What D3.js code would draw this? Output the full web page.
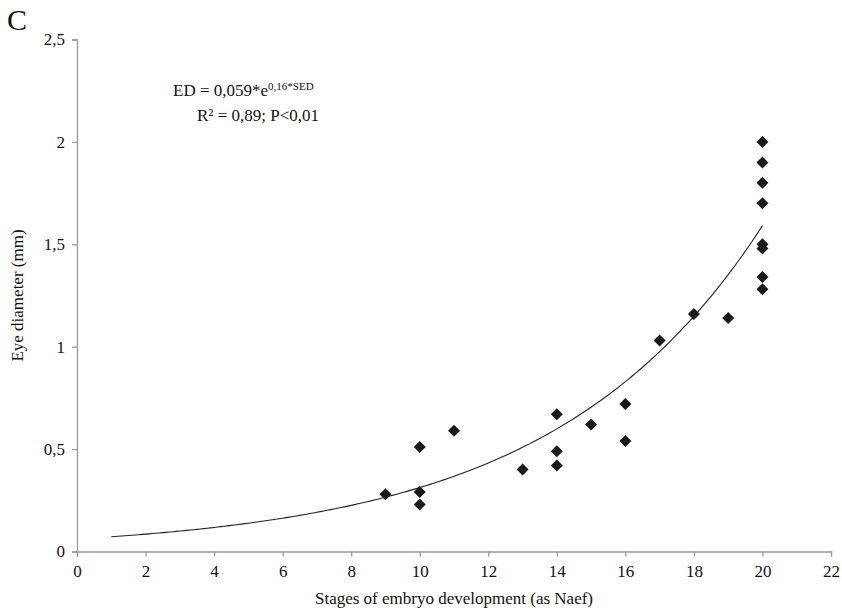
<!DOCTYPE html>
<html lang="en">
<head>
    <meta charset="UTF-8">
    <title>Eye diameter vs embryo stage</title>
    <script src="https://cdn.jsdelivr.net/npm/d3@7"></script>
    <style>
        body { margin: 0; background: #fff; }
        svg text { font-family: "Liberation Serif", "Times New Roman", serif; fill: #111; }
    </style>
</head>
<body>
    <svg id="chart" width="842" height="615"></svg>
    <script>
        // stage (Naef) and eye diameter (mm)
        const stages = [9, 10, 10, 10, 11, 13, 14, 14, 14, 15, 16, 16, 17, 18, 19,
                        20, 20, 20, 20, 20, 20, 20, 20];
        const diameters = [0.28, 0.51, 0.29, 0.23, 0.59, 0.40, 0.67, 0.49, 0.42, 0.62, 0.72, 0.54, 1.03, 1.16, 1.14,
                           2.00, 1.90, 1.80, 1.70, 1.50, 1.48, 1.34, 1.28];
        const xTicks = [0, 2, 4, 6, 8, 10, 12, 14, 16, 18, 20, 22];
        const yTicks = [0, 0.5, 1, 1.5, 2, 2.5];
        // trendline as drawn in the figure (ED = a * e^(b * SED))
        const trendA = 0.0612, trendB = 0.1629;
        const trendRange = [1, 20];

        const svg = d3.select('#chart');
        const x = d3.scaleLinear().domain([0, 22]).range([77, 831]);
        const y = d3.scaleLinear().domain([0, 2.5]).range([551.5, 39.5]);
        const fmt = d => String(d).replace('.', ',');

        // axes
        const xAxis = svg.append('g')
            .attr('transform', `translate(0,${y(0)})`)
            .call(d3.axisBottom(x).tickValues(xTicks).tickSize(5).tickFormat(fmt));
        const yAxis = svg.append('g')
            .attr('transform', `translate(${x(0)},0)`)
            .call(d3.axisLeft(y).tickValues(yTicks).tickSize(5).tickFormat(fmt));
        [xAxis, yAxis].forEach(g => {
            g.attr('font-family', null);
            g.select('.domain').attr('stroke', '#999').attr('stroke-width', 1.3);
            g.selectAll('.tick line').attr('stroke', '#999').attr('stroke-width', 1.3);
            g.selectAll('.tick text')
                .attr('font-size', 17)
                .attr('fill', '#111');
        });
        xAxis.selectAll('.tick text').attr('dy', '1.05em');
        yAxis.selectAll('.tick text').attr('x', -12);

        // trendline
        const curveX = d3.range(trendRange[0], trendRange[1] + 0.001, 0.1);
        svg.append('path')
            .datum(curveX)
            .attr('fill', 'none')
            .attr('stroke', '#222')
            .attr('stroke-width', 1.1)
            .attr('d', d3.line().x(d => x(d)).y(d => y(trendA * Math.exp(trendB * d))));

        // points
        svg.append('g')
            .selectAll('path')
            .data(stages)
            .join('path')
            .attr('d', d3.symbol(d3.symbolSquare, 72))
            .attr('transform', (d, i) => `translate(${x(d)},${y(diameters[i])}) rotate(45)`)
            .attr('fill', '#1a1a1a');

        // labels
        svg.append('text').attr('x', 7).attr('y', 30).attr('font-size', 30).text('C');

        svg.append('text')
            .attr('x', x(11)).attr('y', 604)
            .attr('text-anchor', 'middle').attr('font-size', 17)
            .text('Stages of embryo development (as Naef)');

        svg.append('text')
            .attr('transform', `translate(23,${y(1.25)}) rotate(-90)`)
            .attr('text-anchor', 'middle').attr('font-size', 17)
            .text('Eye diameter (mm)');

        const eq = svg.append('text').attr('x', 173).attr('y', 96).attr('font-size', 17);
        eq.append('tspan').text('ED = 0,059*e');
        eq.append('tspan').attr('dy', -6).attr('font-size', 11).text('0,16*SED');
        svg.append('text').attr('x', 197).attr('y', 121).attr('font-size', 17)
            .text('R² = 0,89; P<0,01');
    </script>
</body>
</html>
